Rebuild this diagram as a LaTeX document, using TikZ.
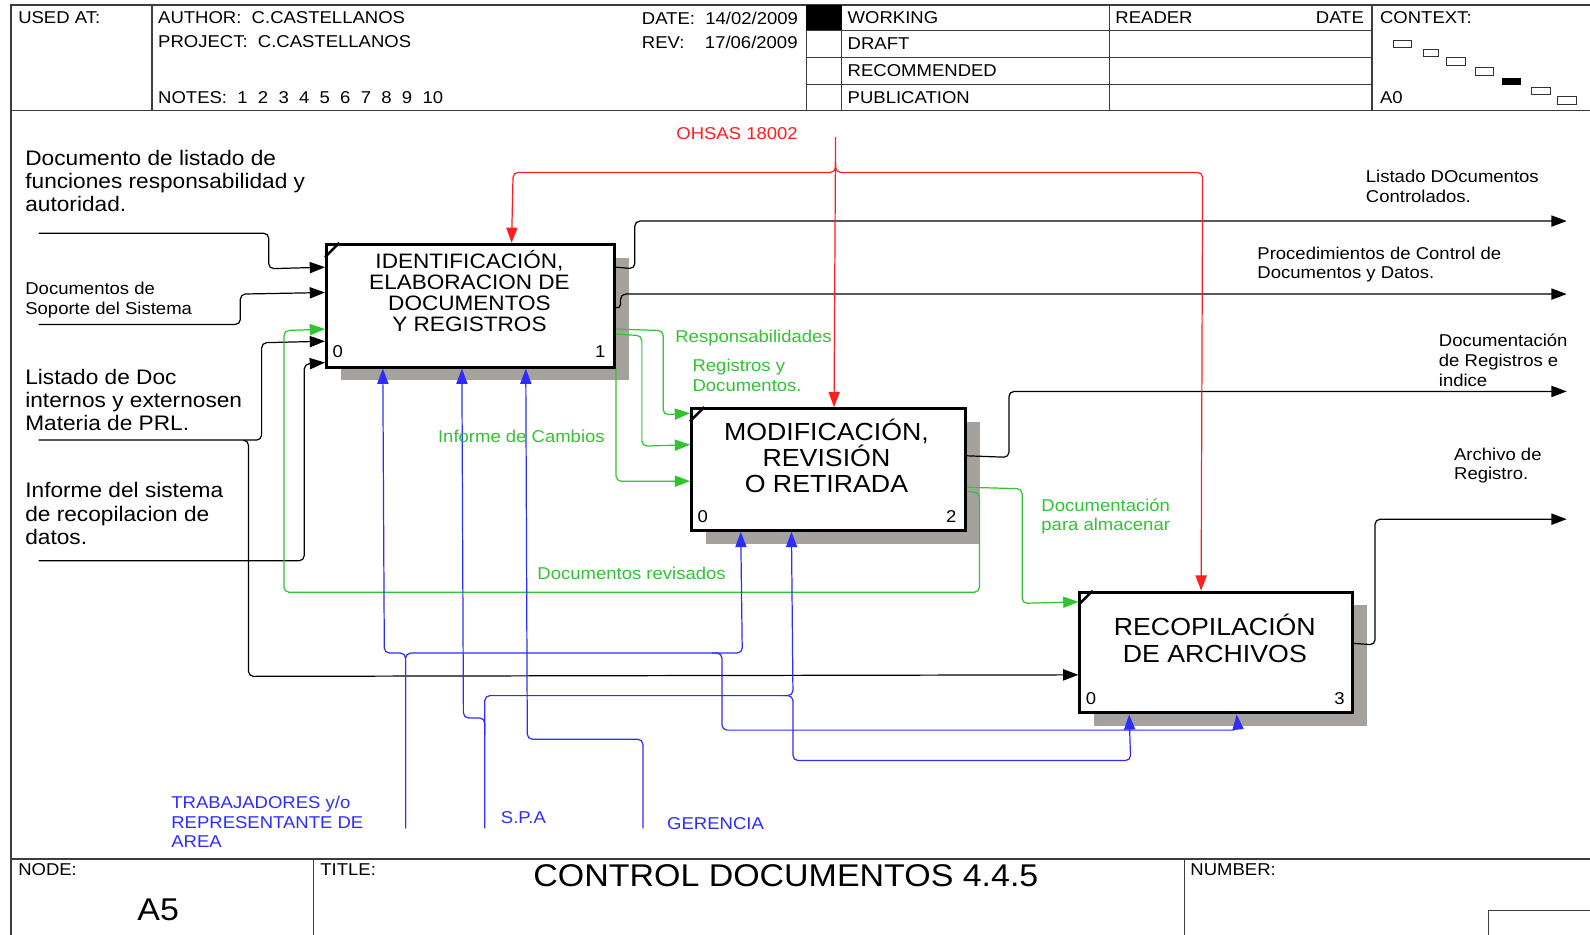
\documentclass[tikz,border=0pt]{standalone}
\usepackage{fontspec}
\setmainfont{Liberation Sans}[FakeStretch=1.08]
\usetikzlibrary{arrows.meta,calc,shadows}
\definecolor{idefgreen}{RGB}{50,195,50}
\definecolor{idefred}{RGB}{255,30,30}
\definecolor{idefblue}{RGB}{45,45,255}
\definecolor{framegray}{RGB}{60,60,60}
\definecolor{shadowgray}{RGB}{165,162,158}
\newcommand\fsz[2]{\fontsize{#1}{#2}\selectfont}

\begin{document}
\begin{tikzpicture}[x=1pt,y=-1pt,
  frameline/.style={draw=framegray, line width=1.3pt},
  txt/.style={inner sep=0pt, outer sep=0pt, anchor=north west, align=left, font=\fsz{16.9}{19}},
  bigtxt/.style={txt, font=\fsz{20.7}{23}},
  act/.style={draw, line width=3pt, fill=white, inner sep=0pt,
    drop shadow={shadow xshift=14pt, shadow yshift=-13pt, opacity=1, fill=shadowgray}},
  acttxt/.style={inner sep=0pt, align=center},
  numtxt/.style={inner sep=0pt, font=\fsz{16.9}{19}},
  flow/.style={line width=1.2pt, rounded corners=5pt, -{Triangle[length=15pt,width=11pt]}},
  blk/.style={flow, draw=black},
  grn/.style={flow, draw=idefgreen},
  rdl/.style={flow, draw=idefred},
  bll/.style={flow, draw=idefblue},
  ctxbox/.style={draw=black!80, line width=1pt}
]
\useasboundingbox (0,0) rectangle (1568,922);
\fill[white] (0,0) rectangle (1568,922);

% ---------- sheet frame ----------
\draw[frameline] (1568,5) -- (11,5) -- (11,922);
\draw[frameline] (11,109) -- (1568,109);
\draw[frameline] (11,847) -- (1568,847);
\foreach \xx in {150,795,830,1094,1353} \draw[frameline] (\xx,5) -- (\xx,109);
\foreach \yy in {30,57,83} \draw[frameline, line width=1pt] (795,\yy) -- (1353,\yy);
\fill[black] (795,5) rectangle (830,30);
\foreach \xx in {309,1168} \draw[frameline] (\xx,847) -- (\xx,922);
\draw[frameline] (1468,922) -- (1468,898) -- (1568,898);

% ---------- header texts ----------
\node[txt] (usedat) at (18,11.5) {USED AT:};
\node[txt] (author) at (156,11.5) {AUTHOR:~~C.CASTELLANOS};
\node[txt] (project) at (156,35.5) {PROJECT:~~C.CASTELLANOS};
\node[txt] (notes) at (156,90.5) {NOTES:~~1~~2~~3~~4~~5~~6~~7~~8~~9~~10};
\node[txt] (date) at (633,11.5) {DATE:~~14/02/2009};
\node[txt] (rev) at (633,35.5) {REV:~~~~17/06/2009};
\node[txt] (working) at (836,11.5) {WORKING};
\node[txt] (draft) at (836,37.5) {DRAFT};
\node[txt] (recom) at (836,63.5) {RECOMMENDED};
\node[txt] (publ) at (836,90.5) {PUBLICATION};
\node[txt] (reader) at (1100,11.5) {READER};
\node[txt, anchor=north east] (rdate) at (1345,11.5) {DATE};
\node[txt] (context) at (1361,11.5) {CONTEXT:};
\node[txt] (a0) at (1361,90.5) {A0};

% context map
\draw[ctxbox] (1374,40) rectangle (1392,47);
\draw[ctxbox] (1404,49) rectangle (1419,56);
\draw[ctxbox] (1426,57) rectangle (1445,65);
\draw[ctxbox] (1455,67) rectangle (1473,74);
\fill[black] (1481,77) rectangle (1500,84);
\draw[ctxbox] (1510,86) rectangle (1529,93);
\draw[ctxbox] (1536,95) rectangle (1555,103);

% ---------- footer texts ----------
\node[txt] (nodelbl) at (18,851.5) {NODE:};
\node[inner sep=0pt, font=\fsz{31}{34}] (nodeval) at (156,897) {A5};
\node[txt] (titlelbl) at (316,851.5) {TITLE:};
\node[inner sep=0pt, font=\fsz{31}{34}] (title) at (775,864) {CONTROL DOCUMENTOS 4.4.5};
\node[txt] (numberlbl) at (1174,851.5) {NUMBER:};

% ---------- activity boxes ----------
\node[act, minimum width=284pt, minimum height=121pt] (b1) at (464,301.5) {};
\node[act, minimum width=270pt, minimum height=120pt] (b2) at (817,463) {};
\node[act, minimum width=269pt, minimum height=119pt] (b3) at (1199.5,643.5) {};

\foreach \b in {b1,b2,b3}
  \draw[line width=2.5pt] ($(\b.north west)+(0,14)$) -- ($(\b.north west)+(14,0)$);

\node[acttxt, font=\fsz{20.6}{21}] (b1t) at (463,287) {IDENTIFICACIÓN,\\ELABORACION DE\\DOCUMENTOS\\Y REGISTROS};
\node[acttxt, font=\fsz{24.4}{26}] (b2t) at (815,449.5) {MODIFICACIÓN,\\REVISIÓN\\O RETIRADA};
\node[acttxt, font=\fsz{24.4}{26}] (b3t) at (1198,629.5) {RECOPILACIÓN\\DE ARCHIVOS};

\node[numtxt] (b1z) at (333,347) {0};
\node[numtxt] (b1n) at (592,347) {1};
\node[numtxt] (b2z) at (693,509) {0};
\node[numtxt] (b2n) at (938,509) {2};
\node[numtxt] (b3z) at (1076,689) {0};
\node[numtxt] (b3n) at (1321,689) {3};

% ---------- free ends ----------
\coordinate (inA) at (38,230);
\coordinate (inB) at (38,320);
\coordinate (inC) at (38,434);
\coordinate (inD) at (38,553);
\coordinate (outA) at (1545,218);
\coordinate (outB) at (1545,290);
\coordinate (outC) at (1545,386);
\coordinate (outD) at (1545,512);
\coordinate (ohsas) at (824,135);
\coordinate (trab) at (400,817);
\coordinate (spa) at (478,817);
\coordinate (ger) at (634,817);

% ---------- inputs (black) ----------
\draw[blk] (inA) -- (265,230) -- (265,265) -- ($(b1.north west)+(0,24)$);
\draw[blk] (inB) -- (237,320) -- (237,290) -- ($(b1.north west)+(0,49)$);
\draw[blk] (inC) -- (258,434) -- (258,338) -- ($(b1.north west)+(0,97)$);
\draw[blk] (240,434) -- (245,434) -- (245,667) -- ($(b3.north west)+(0,83)$);
\draw[blk] (inD) -- (300,553) -- (300,359) -- ($(b1.north west)+(0,118)$);

% ---------- outputs (black) ----------
\draw[blk] ($(b1.north east)+(0,24)$) -- (626,265) -- (626,218) -- (outA);
\draw[blk] ($(b1.north east)+(0,64)$) -- (612,305) -- (612,290) -- (outB);
\draw[blk] ($(b2.north east)+(0,48)$) -- (995,451) -- (995,386) -- (outC);
\draw[blk] ($(b3.north east)+(0,52)$) -- (1356,636) -- (1356,512) -- (outD);

% ---------- feedback / transfers (green) ----------
\draw[grn] ($(b1.north east)+(0,85)$) -- (654,326) -- (654,409) -- ($(b2.north west)+(0,6)$);
\draw[grn] ($(b1.north east)+(0,90)$) -- (633,331) -- (633,440) -- ($(b2.north west)+(0,37)$);
\draw[grn] (b1.south east) |- ($(b2.north west)+(0,73)$);
\draw[grn] ($(b2.north east)+(0,79)$) -- (1008,482) -- (1008,595) -- ($(b3.north west)+(0,11)$);
\draw[grn] ($(b2.north east)+(0,83)$) -- (966,486) -- (966,584) -- (280,584) -- (280,326) -- ($(b1.north west)+(0,85)$);

% ---------- controls (red) ----------
\draw[rdl] (ohsas) -- ($(b2.north west)+(142,0)$);
\draw[rdl] (824,160) -- (824,170) -- (506,170) -- ($(b1.north west)+(184,0)$);
\draw[rdl] (824,160) -- (824,170) -- (1186,170) -- ($(b3.north west)+(121,0)$);

% ---------- mechanisms (blue) ----------
\draw[bll] (trab) -- (400,644) -- (379,644) -- ($(b1.south west)+(57,0)$);
\draw[bll] (trab) -- (400,644) -- (732,644) -- ($(b2.south west)+(50,0)$);
\draw[bll] (702,644) -- (712,644) -- (712,720) -- (1221,720) -- ($(b3.south west)+(156,0)$);
\draw[bll] (spa) -- (478,686) -- (782,686) -- ($(b2.south west)+(100,0)$);
\draw[bll] (478,725) -- (478,708) -- (457,708) -- ($(b1.south west)+(135,0)$);
\draw[bll] (772,686) -- (782,686) -- (782,750) -- (1115,750) -- ($(b3.south west)+(50,0)$);
\draw[bll] (ger) -- (634,729) -- (520,729) -- ($(b1.south west)+(198,0)$);

% ---------- arrow labels ----------
\node[bigtxt] (lblA) at (25,148) {Documento de listado de\\funciones responsabilidad y\\autoridad.};
\node[txt] (lblB) at (25,278.5) {Documentos de\\Soporte del Sistema};
\node[bigtxt] (lblC) at (25,364) {Listado de Doc\\internos y externosen\\Materia de PRL.};
\node[bigtxt] (lblD) at (25,476) {Informe del sistema\\de recopilacion de\\datos.};

\node[txt, text=idefred] (lblO) at (667,125.5) {OHSAS 18002};

\node[txt, font=\fsz{16.9}{20}] (lblOA) at (1347,167.5) {Listado DOcumentos\\Controlados.};
\node[txt] (lblOB) at (1240,243.5) {Procedimientos de Control de\\Documentos y Datos.};
\node[txt, font=\fsz{16.9}{19.5}] (lblOC) at (1419,329.5) {Documentación\\de Registros e\\indice};
\node[txt] (lblOD) at (1434,441.5) {Archivo de\\Registro.};

\node[txt, text=idefgreen] (lblG1) at (666,325.5) {Responsabilidades};
\node[txt, text=idefgreen] (lblG2) at (683,354.5) {Registros y\\Documentos.};
\node[txt, text=idefgreen] (lblG3) at (432,424.5) {Informe de Cambios};
\node[txt, text=idefgreen] (lblG4) at (1027,491.5) {Documentación\\para almacenar};
\node[txt, text=idefgreen] (lblG5) at (530,559.5) {Documentos revisados};

\node[txt, text=idefblue] (lblM1) at (169,785.5) {TRABAJADORES y/o\\REPRESENTANTE DE\\AREA};
\node[txt, text=idefblue] (lblM2) at (494,800.5) {S.P.A};
\node[txt, text=idefblue] (lblM3) at (658,806.5) {GERENCIA};
\end{tikzpicture}
\end{document}
